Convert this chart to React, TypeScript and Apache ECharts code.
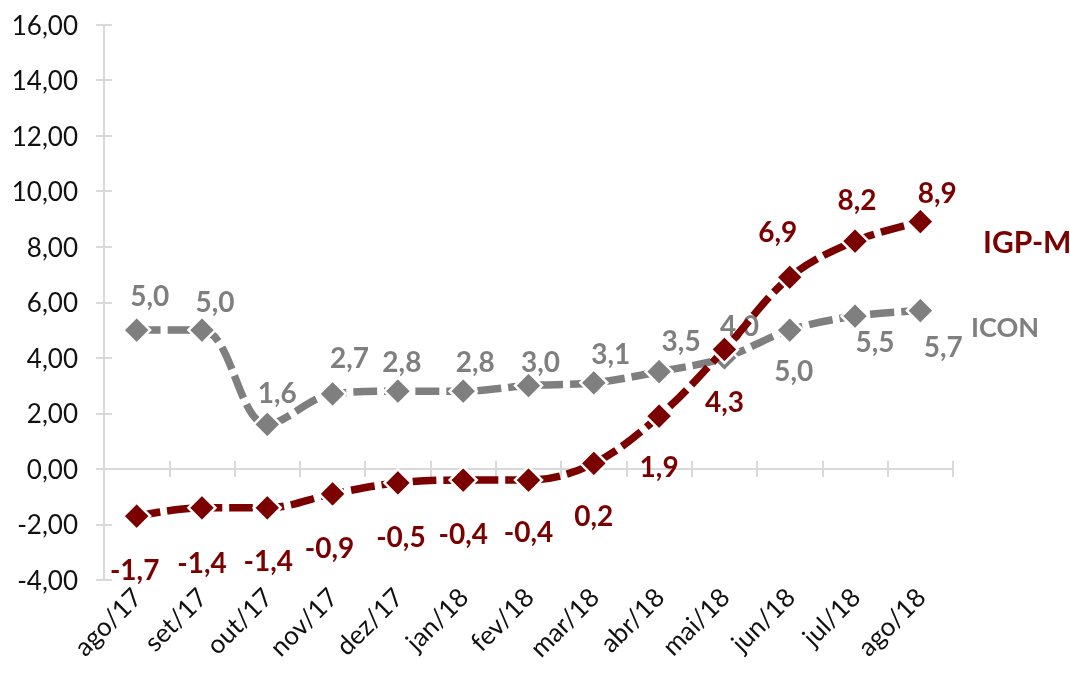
import React, { useEffect, useRef } from "react";
import * as echarts from "echarts";

const categories = ["ago/17", "set/17", "out/17", "nov/17", "dez/17", "jan/18", "fev/18", "mar/18", "abr/18", "mai/18", "jun/18", "jul/18", "ago/18"];
const igpmValues = [-1.7, -1.4, -1.4, -0.9, -0.5, -0.4, -0.4, 0.2, 1.9, 4.3, 6.9, 8.2, 8.9];
const iconValues = [5.0, 5.0, 1.6, 2.7, 2.8, 2.8, 3.0, 3.1, 3.5, 4.0, 5.0, 5.5, 5.7];
const yMin = -4;
const yMax = 16;
const yInterval = 2;
const seriesNames = ["IGP-M", "ICON"];

// label placement (layout only)
const igpmLabelOffsets = [[-2, 53], [0, 54], [1, 52], [-3, 53], [3, 53], [0, 53], [0, 51], [0, 52], [0, 50], [0, 52], [-12, -46], [2, -42], [17, -30]];
const iconLabelOffsets = [[13, -35], [13, -29], [10, -32], [17, -37], [4, -30], [12, -30], [12, -25], [17, -30], [22, -32], [15, -33], [4, 40], [20, 25], [23, 35]];

const RED = "#7b0000";
const GRAY = "#7f7f7f";
const AXIS = "#d9d9d9";
const FONT = "Lato, 'Open Sans', sans-serif";

const fmt1 = (v: number) => v.toFixed(1).replace(".", ",");

export default function App() {
  const ref = useRef<HTMLDivElement>(null);
  useEffect(() => {
    if (!ref.current) return;
    const chart = echarts.init(ref.current, null, { renderer: "svg" });
    const mkSeries = (name: string, values: number[], offsets: number[][], color: string, z: number) => ({
      name,
      type: "line",
      xAxisIndex: 0,
      yAxisIndex: 0,
      smooth: 0.35,
      z,
      symbol: "diamond",
      symbolSize: 27,
      itemStyle: { color, borderColor: "#fff", borderWidth: 2.5 },
      lineStyle: { color, width: 7.5, type: [24, 7], cap: "butt" },
      label: {
        show: true,
        position: "inside",
        color,
        fontFamily: FONT,
        fontWeight: "bold",
        fontSize: 28,
        formatter: (p: any) => fmt1(p.value),
      },
      data: values.map((v, i) => ({ value: v, label: { offset: offsets[i] } })),
    });
    chart.setOption({
      animation: false,
      grid: { left: 104, right: 117, top: 24.5, bottom: 100, outerBoundsMode: "none", containLabel: false },
      xAxis: [
        {
          type: "category",
          data: categories,
          position: "bottom",
          axisLine: { show: false, onZero: false },
          axisTick: { show: false },
          axisLabel: { rotate: 45, margin: 12, color: "#111", fontFamily: FONT, fontSize: 26, interval: 0 },
          splitLine: { show: false },
        },
        {
          type: "category",
          data: categories,
          position: "bottom",
          axisLine: { show: true, onZero: true, lineStyle: { color: AXIS, width: 2 } },
          axisTick: { show: true, length: 8, inside: false, lineStyle: { color: AXIS, width: 2 } },
          axisLabel: { show: false },
          splitLine: { show: false },
        },
        {
          type: "category",
          data: categories,
          position: "bottom",
          axisLine: { show: false, onZero: true },
          axisTick: { show: true, length: 8, inside: true, lineStyle: { color: AXIS, width: 2 } },
          axisLabel: { show: false },
          splitLine: { show: false },
        },
      ],
      yAxis: [
        {
          type: "value",
          min: yMin,
          max: yMax,
          interval: yInterval,
          axisLine: { show: true, lineStyle: { color: AXIS, width: 2 } },
          axisTick: { show: true, length: 8, inside: false, lineStyle: { color: AXIS, width: 2 } },
          axisLabel: {
            margin: 26,
            color: "#111",
            fontFamily: FONT,
            fontSize: 26,
            formatter: (v: number) => v.toFixed(2).replace(".", ","),
          },
          splitLine: { show: false },
        },
        {
          type: "value",
          min: yMin,
          max: yMax,
          interval: yInterval,
          position: "left",
          axisLine: { show: false },
          axisTick: { show: true, length: 8, inside: true, lineStyle: { color: AXIS, width: 2 } },
          axisLabel: { show: false },
          splitLine: { show: false },
        },
      ],
      series: [
        mkSeries(seriesNames[1], iconValues, iconLabelOffsets, GRAY, 2),
        mkSeries(seriesNames[0], igpmValues, igpmLabelOffsets, RED, 3),
      ],
      graphic: [
        {
          type: "text",
          left: 983,
          top: 226,
          style: { text: seriesNames[0], fill: RED, font: `bold 30px ${FONT}` },
        },
        {
          type: "text",
          left: 971,
          top: 313,
          style: { text: seriesNames[1], fill: GRAY, font: `bold 27px ${FONT}` },
        },
      ],
    });
    return () => chart.dispose();
  }, []);
  return <div ref={ref} style={{ position: "fixed", left: 0, top: 0, width: 1070, height: 680 }} />;
}
